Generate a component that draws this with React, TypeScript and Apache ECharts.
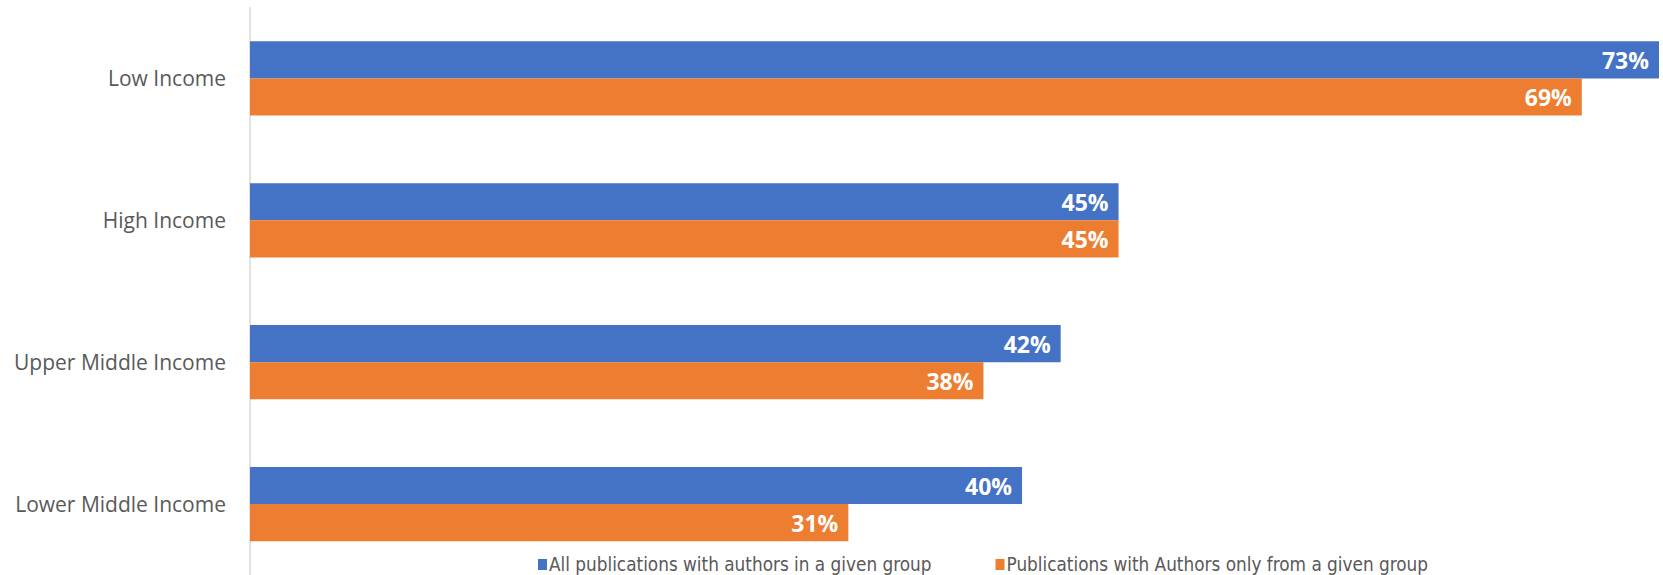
import React, { useEffect, useRef } from "react";
import * as echarts from "echarts";

const categories = ["Low Income", "High Income", "Upper Middle Income", "Lower Middle Income"];
const seriesNames = [
  "All publications with authors in a given group",
  "Publications with Authors only from a given group",
];
const allPubs = [73, 45, 42, 40];
const onlyPubs = [69, 45, 38, 31];
const colors = ["#4472C4", "#ED7D31"];

export default function App() {
  const ref = useRef<HTMLDivElement>(null);
  useEffect(() => {
    document.body.style.margin = "0";
    const chart = echarts.init(ref.current!, null, { renderer: "svg" });
    const label = {
      show: true,
      position: "insideRight" as const,
      distance: 10,
      color: "#ffffff",
      fontFamily: "'Open Sans', sans-serif",
      fontWeight: "bold" as const,
      fontSize: 23,
      formatter: (p: any) => p.value + "%",
    };
    chart.setOption({
      animation: false,
      grid: { left: 250, width: 1409, top: 7.5, height: 573, containLabel: false },
      legend: {
        top: 555,
        left: 538,
        padding: 0,
        itemWidth: 9,
        itemHeight: 11,
        itemGap: 64,
        icon: "rect",
        textStyle: {
          color: "#595959",
          fontSize: 18.8,
          lineHeight: 18,
          padding: [0, 0, 0, -3],
          fontFamily: "'Liberation Sans Narrow', 'DejaVu Sans Condensed', sans-serif",
        },
        data: seriesNames,
      },
      xAxis: {
        type: "value",
        min: 0,
        max: 73,
        show: false,
      },
      yAxis: {
        type: "category",
        data: categories,
        inverse: true,
        axisLine: { show: false },
        axisTick: { show: false },
        axisLabel: {
          color: "#595959",
          fontSize: 21,
          margin: 24,
          fontFamily: "'Open Sans', sans-serif",
        },
      },
      graphic: [
        {
          type: "line",
          shape: { x1: 250, y1: 7, x2: 250, y2: 575 },
          style: { stroke: "#d9d9d9", lineWidth: 1.5 },
          silent: true,
        },
      ],
      series: [
        {
          name: seriesNames[0],
          type: "bar",
          data: allPubs,
          itemStyle: { color: colors[0] },
          barGap: "0%",
          barCategoryGap: "47.7%",
          label,
        },
        {
          name: seriesNames[1],
          type: "bar",
          data: onlyPubs,
          itemStyle: { color: colors[1] },
          barGap: "0%",
          barCategoryGap: "47.7%",
          label,
        },
      ],
    });
    return () => chart.dispose();
  }, []);
  return (
    <div
      ref={ref}
      style={{ position: "absolute", left: 0, top: 0, width: 1663, height: 575, background: "#fff" }}
    />
  );
}
